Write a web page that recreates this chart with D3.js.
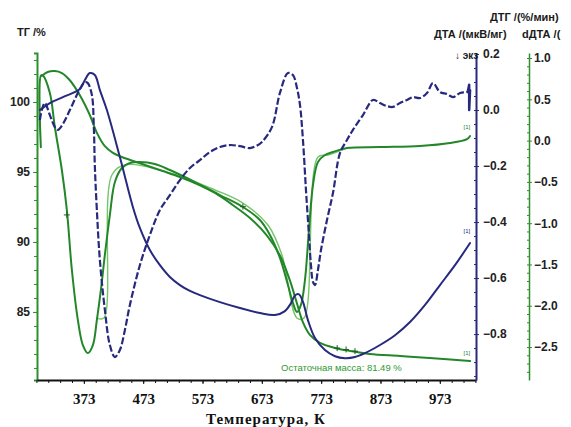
<!DOCTYPE html>
<html><head><meta charset="utf-8">
<script src="https://cdn.jsdelivr.net/npm/d3@7"></script>
<style>
body{margin:0;background:#fff;}
svg{display:block;}
</style></head>
<body>
<svg id="c" width="571" height="427"></svg>
<script>
// ---- data (temperature K, value) ----
const xTicks = [373, 473, 573, 673, 773, 873, 973];
const tgTicks = [85, 90, 95, 100];
const dtaTicks = [-0.8, -0.6, -0.4, -0.2, 0.0, 0.2];
const dtgTicks = [-2.5, -2.0, -1.5, -1.0, -0.5, 0.0, 0.5, 1.0];

// TG, %
const tgT = [302,312,324,336,349,366,383,395,408,422,437,451,476,506,535,564,594,624,653,682,704,720,732,742,754,771,796,822,855,906,956,1024];
const tgV = [101.86,102.14,102.21,102.07,101.57,100.5,99.07,97.79,96.86,96.36,96.07,95.86,95.5,95.07,94.64,94.14,93.5,92.64,91.71,90.43,89.0,87.29,85.64,84.29,83.36,82.79,82.43,82.21,82.0,81.86,81.71,81.49];

// DTG, %/min
const dtgT = [300.5,300.8,303.9,315.7,324.1,335.9,344.3,352.8,362.9,371.3,379.7,388.2,394.9,401.7,408.4,416.8,425.3,437.1,450.6,467.4,492.7,518,563.6,602.3,641.1,669.8,686.7,703.5,717,725.4,732.2,738.9,745.7,752.4,759.2,767.6,779.4,792.9,816.5,872.2,939.6,990.2,1018.9,1024];
const dtgV = [-0.08,0.79,0.79,0.576,0.165,-0.356,-0.84,-1.567,-2.173,-2.476,-2.573,-2.476,-2.173,-1.809,-1.385,-0.901,-0.501,-0.332,-0.271,-0.259,-0.283,-0.356,-0.514,-0.659,-0.804,-0.961,-1.143,-1.421,-1.748,-1.966,-2.075,-1.99,-1.688,-1.083,-0.538,-0.259,-0.174,-0.138,-0.09,-0.078,-0.065,-0.029,0.019,0.056];

// DTG evaluation (light green)
const fitT = [394.9,406.7,420.2,442.1,518,594,641.1,683.3,706.9,732.2,744,767.6,784.5,816.5];
const fitV = [-2.149,-2.149,-0.417,-0.295,-0.392,-0.598,-0.756,-1.022,-1.385,-2.149,-2.149,-0.199,-0.174,-0.09];

// DTA, µV/mg (dashed)
const dtaT = [298.8,302.2,307.2,315.7,324.1,329.2,337.6,349.4,366.3,374.7,379.7,386.5,389.8,391.5,394.9,400,408.4,416.8,425.3,433.7,442.1,450.6,467.4,484.3,501.2,518,534.9,551.8,568.6,585.5,602.3,619.2,636.1,652.9,663,673.2,690,703.5,717,725.4,732.2,737.3,742.3,747.4,752.4,755.8,759.2,762.6,767.6,772.7,782.8,792.9,804.7,816.5,826.6,843.5,860.4,872.2,883.9,894.1,905.9,917.7,927.8,939.6,951.4,961.5,973.3,985.1,995.3,1007.1,1018.9,1024];
const dtaV = [-0.036,0,0.025,-0.018,-0.061,-0.071,-0.05,0,0.075,0.1,0.096,0.054,-0.061,-0.2,-0.357,-0.536,-0.714,-0.839,-0.882,-0.857,-0.786,-0.696,-0.554,-0.446,-0.357,-0.304,-0.25,-0.207,-0.179,-0.15,-0.132,-0.125,-0.129,-0.136,-0.129,-0.114,-0.061,0.061,0.132,0.125,0.079,0.018,-0.107,-0.286,-0.446,-0.554,-0.614,-0.625,-0.571,-0.5,-0.393,-0.296,-0.154,-0.107,-0.071,-0.018,0.036,0.025,0.014,0.011,0.025,0.036,0.046,0.043,0.061,0.096,0.064,0.057,0.046,0.061,0.064,0.071];
// small end spike of the DTA trace
const dtaEndT = [1020, 1022.5, 1022.5, 1024];
const dtaEndV = [0.064, 0.09, 0.0, 0.071];

// dDTA (solid blue), plotted on the DTA scale
const ddtaT = [298.8,315.7,337.6,366.3,374.7,383.1,391.5,400,411.8,433.7,455.6,467.4,484.3,501.2,518,534.9,551.8,568.6,602.3,636.1,669.8,695.1,711.9,722.1,728.8,735.6,742.3,750.7,762.6,779.4,796.3,813.1,830,846.9,872.2,897.5,922.8,948.1,973.3,998.6,1024];
const ddtaV = [0,0.025,0.046,0.075,0.107,0.132,0.125,0.071,0,-0.168,-0.346,-0.421,-0.5,-0.554,-0.596,-0.625,-0.646,-0.661,-0.686,-0.707,-0.725,-0.732,-0.718,-0.69,-0.662,-0.658,-0.685,-0.75,-0.814,-0.857,-0.879,-0.886,-0.882,-0.868,-0.839,-0.804,-0.757,-0.696,-0.625,-0.554,-0.475];

// "+" marks
const dtgMarkT = [344.3, 641.1];
const dtgMarkV = [-0.9, -0.8];
const tgMarkT = [800, 815, 830];
const tgMarkV = [82.42, 82.32, 82.2];

const residual = "Остаточная масса: 81.49 %";

// ---- scales ----
const x = d3.scaleLinear().domain([294, 1034]).range([37, 476]);
const yTG = d3.scaleLinear().domain([80.14, 103.5]).range([380, 53]);
const yDTA = d3.scaleLinear().domain([-0.964, 0.2036]).range([380, 53]);
const yDTG = d3.scaleLinear().domain([-2.899, 1.061]).range([380, 53]);

const svg = d3.select("#c");
const GREEN = "#23872a", LGREEN = "#74c46a", BLUE = "#27297f", AXG = "#2f8f2f";
const numFont = "'Liberation Sans', Arial, sans-serif";

function zip(a, b) { return a.map((t, i) => [t, b[i]]); }
function path(T, V, ys, color, w, dash, linear) {
  const line = d3.line().x(d => x(d[0])).y(d => ys(d[1]))
    .curve(linear ? d3.curveLinear : d3.curveCatmullRom.alpha(0.5));
  svg.append("path").attr("d", line(zip(T, V))).attr("fill", "none")
    .attr("stroke", color).attr("stroke-width", w)
    .attr("stroke-dasharray", dash || null).attr("stroke-linejoin", "round").attr("stroke-linecap", dash ? "butt" : "round");
}

// curves
path(fitT, fitV, yDTG, LGREEN, 1.4);
path(tgT, tgV, yTG, GREEN, 2);
path(dtgT, dtgV, yDTG, GREEN, 2);
path(ddtaT, ddtaV, yDTA, BLUE, 2);
path(dtaT, dtaV, yDTA, BLUE, 2.2, "7,2.5");
path(dtaEndT, dtaEndV, yDTA, BLUE, 2.5, null, true);

// markers
function plus(px, py, color) {
  svg.append("path").attr("d", `M${px-3},${py}H${px+3}M${px},${py-3}V${py+3}`)
    .attr("stroke", color).attr("stroke-width", 1);
}
dtgMarkT.forEach((t, i) => plus(x(t), yDTG(dtgMarkV[i]), "#1b5e20"));
tgMarkT.forEach((t, i) => plus(x(t), yTG(tgMarkV[i]), "#1b5e20"));

// [1] labels
function tag(t, y, color) {
  svg.append("text").attr("x", x(t)).attr("y", y).text("[1]")
    .attr("font-size", 6).attr("font-family", numFont).attr("fill", color);
}
tag(1013, yDTG(0.14), "#2e7d32");
tag(1013, yDTA(-0.44), BLUE);
tag(1013, yTG(81.95), "#2e7d32");

// ---- axes ----
function styleAxis(g, color) {
  g.select(".domain").attr("stroke", color).attr("stroke-width", 2);
  g.selectAll(".tick line").attr("stroke", color).attr("stroke-width", 1);
  g.selectAll(".tick text").attr("font-family", numFont).attr("font-weight", "bold")
    .attr("font-size", 12).attr("fill", "#222");
}

// left TG axis
const gL = svg.append("g").attr("transform", "translate(37,0)");
gL.call(d3.axisLeft(yTG).tickValues(d3.range(81, 104, 1)).tickSize(3).tickFormat(""))
  .call(g => styleAxis(g, AXG));
const gL2 = svg.append("g").attr("transform", "translate(37,0)");
gL2.call(d3.axisLeft(yTG).tickValues(tgTicks).tickSize(4).tickPadding(3).tickSizeOuter(0))
  .call(g => styleAxis(g, AXG));
gL2.select(".domain").remove();

// bottom axis
const gB = svg.append("g").attr("transform", "translate(0,380)");
gB.call(d3.axisBottom(x).tickValues(d3.range(293, 1034, 20)).tickSize(3).tickFormat("").tickSizeOuter(0))
  .call(g => styleAxis(g, "#111"));
const gB2 = svg.append("g").attr("transform", "translate(0,380)");
gB2.call(d3.axisBottom(x).tickValues(xTicks).tickSize(4).tickPadding(9).tickFormat(d3.format("d")))
  .call(g => styleAxis(g, "#111"));
gB2.select(".domain").remove();
gB2.selectAll(".tick text").attr("font-family", "'Liberation Serif','Times New Roman',serif")
  .attr("font-size", 15).attr("fill", "#111");

// DTA axis (blue)
const gR = svg.append("g").attr("transform", "translate(476,0)");
gR.call(d3.axisLeft(yDTA).tickValues(d3.range(-0.95, 0.2, 0.05)).tickSize(2).tickFormat("").tickSizeOuter(0))
  .call(g => styleAxis(g, BLUE));
const gR2 = svg.append("g").attr("transform", "translate(476,0)");
gR2.call(d3.axisRight(yDTA).tickValues(dtaTicks).tickSize(3).tickPadding(4).tickFormat(d3.format(".1f")))
  .call(g => styleAxis(g, BLUE));
gR2.select(".domain").remove();

// DTG axis (green)
const gG = svg.append("g").attr("transform", "translate(529,0)");
gG.call(d3.axisLeft(yDTG).tickValues(d3.range(-2.8, 1.05, 0.1)).tickSize(2).tickFormat("").tickSizeOuter(0))
  .call(g => styleAxis(g, AXG));
gG.select(".domain").attr("stroke-width", 1.5);
const gG2 = svg.append("g").attr("transform", "translate(529,0)");
gG2.call(d3.axisRight(yDTG).tickValues(dtgTicks).tickSize(3).tickPadding(2).tickFormat(d3.format(".1f")))
  .call(g => styleAxis(g, AXG));
gG2.select(".domain").remove();

// ---- titles ----
function label(txt, px, py, opts) {
  const t = svg.append("text").attr("x", px).attr("y", py).text(txt)
    .attr("font-family", numFont).attr("font-weight", "bold").attr("font-size", 11).attr("fill", "#1a1a1a");
  if (opts) Object.entries(opts).forEach(([k, v]) => t.attr(k, v));
  return t;
}
label("ТГ /%", 17, 36);
label("ДТГ /(%/мин)", 490, 21);
label("ДТА /(мкВ/мг)", 434, 38);
label("dДТА /(", 522, 38);
label("↓ экз", 455, 59, {"font-size": 10});

svg.append("text").attr("x", 266).attr("y", 424).attr("text-anchor", "middle")
  .text("Температура, К").attr("font-family", "'Liberation Serif','Times New Roman',serif")
  .attr("font-weight", "bold").attr("font-size", 15).attr("letter-spacing", 1).attr("fill", "#111");

svg.append("text").attr("x", 281).attr("y", 371).text(residual)
  .attr("font-family", numFont).attr("font-size", 9.5).attr("fill", "#2e9a30");
</script>
</body></html>
